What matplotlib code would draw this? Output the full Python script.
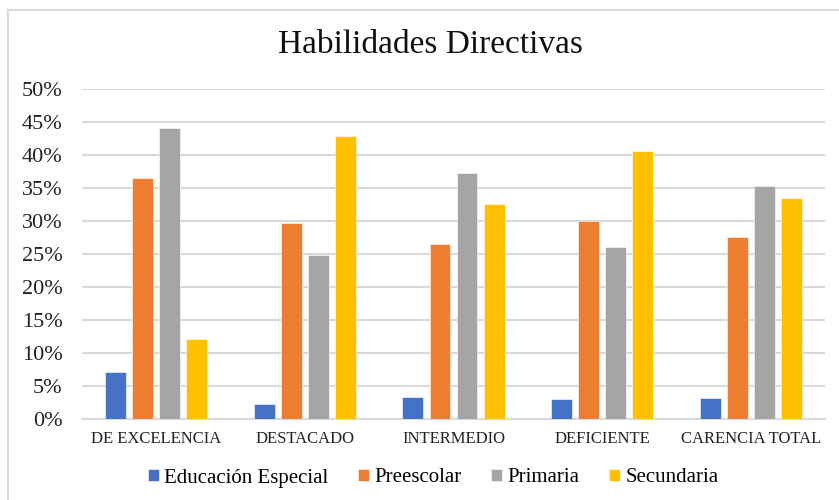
import matplotlib.pyplot as plt
import numpy as np
from matplotlib.lines import Line2D

categories = ['DE EXCELENCIA', 'DESTACADO', 'INTERMEDIO', 'DEFICIENTE', 'CARENCIA TOTAL']
series = ['Educación Especial', 'Preescolar', 'Primaria', 'Secundaria']
educacion_especial = [0.071, 0.023, 0.033, 0.030, 0.032]
preescolar = [0.364, 0.296, 0.264, 0.299, 0.276]
primaria = [0.440, 0.248, 0.373, 0.260, 0.352]
secundaria = [0.120, 0.429, 0.326, 0.406, 0.335]
yticks = [0, 0.05, 0.10, 0.15, 0.20, 0.25, 0.30, 0.35, 0.40, 0.45, 0.50]
colors = ['#4472C4', '#ED7D31', '#A5A5A5', '#FFC000']

plt.rcParams['font.family'] = ['Liberation Serif', 'DejaVu Serif']

fig = plt.figure(figsize=(8.39, 5), dpi=100)
ax = fig.add_axes([82 / 839, 1 - 418.7 / 500, (825 - 82) / 839, 330 / 500])

x = np.arange(len(categories))
pitch = 0.182
width = 0.141
values = [educacion_especial, preescolar, primaria, secundaria]
for i, (name, vals) in enumerate(zip(series, values)):
    ax.bar(x + (i - 1.5) * pitch, vals, width, color=colors[i], label=name,
           edgecolor='white', linewidth=0.4, zorder=3)

ax.set_xlim(-0.5, len(categories) - 0.5)
ax.set_ylim(0, 0.5)
ax.set_yticks(yticks)
ax.set_yticklabels([f'{int(round(t * 100))}%' for t in yticks], fontsize=16)
ax.set_xticks(x)
ax.set_xticklabels(categories, fontsize=12)
ax.tick_params(axis='both', length=0, colors='#222222')
ax.tick_params(axis='y', pad=14)
ax.tick_params(axis='x', pad=9)
ax.grid(axis='y', color='#D9D9D9', linewidth=1.5, zorder=0)
for s in ['top', 'right', 'left']:
    ax.spines[s].set_visible(False)
ax.spines['bottom'].set_color('#D9D9D9')
ax.spines['bottom'].set_linewidth(1.5)

fig.text(430 / 839, 1 - 45 / 500, 'Habilidades Directivas', ha='center', va='center',
         fontsize=24, color='#111111')

fig.legend(loc='center', bbox_to_anchor=(433 / 839, 1 - 478 / 500), ncol=4, frameon=False,
           fontsize=15, handlelength=0.55, handleheight=0.55, handletextpad=0.25,
           columnspacing=1.4, borderpad=0)

# chart border (top and left only visible)
fig.add_artist(Line2D([8 / 839, 8 / 839], [0, 1 - 10 / 500], transform=fig.transFigure,
                      color='#D9D9D9', linewidth=1.5))
fig.add_artist(Line2D([8 / 839, 1], [1 - 10 / 500, 1 - 10 / 500], transform=fig.transFigure,
                      color='#D9D9D9', linewidth=1.5))

fig.savefig('out.png', dpi=100)
